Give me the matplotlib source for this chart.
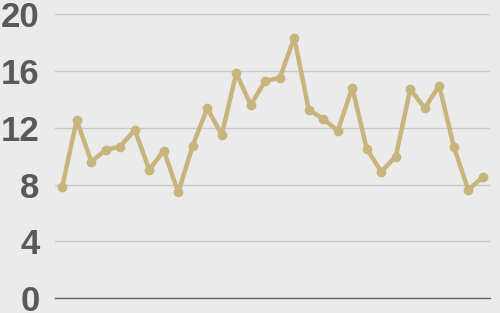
import matplotlib
matplotlib.use('Agg')
from matplotlib import pyplot as plt
import numpy as np

# values
values = [7.86, 12.54, 9.62, 10.44, 10.68, 11.85, 9.04, 10.4, 7.46, 10.75,
          13.38, 11.5, 15.85, 13.6, 15.3, 15.5, 18.35, 13.26, 12.63, 11.78,
          14.83, 10.51, 8.92, 9.97, 14.72, 13.38, 14.97, 10.68, 7.63, 8.52]
y_ticks = [0, 4, 8, 12, 16, 20]

BG = '#ebebeb'
LINE = '#c8b57d'
TEXT = '#595959'


def plot_chart():
    fig = plt.figure(figsize=(5, 3.13), dpi=100, facecolor=BG)
    ax = fig.add_axes([0.11, 0.047, 0.87, 0.908])
    ax.set_facecolor(BG)

    x = np.arange(len(values))
    ax.plot(x, values, color=LINE, linewidth=3.2, marker='o', markersize=6,
            solid_joinstyle='round', zorder=3)

    ax.set_xlim(-0.5, len(values) - 0.5)
    ax.set_ylim(0, 20)
    ax.set_yticks(y_ticks)
    ax.set_xticks([])
    ax.yaxis.grid(True, color='#c9c9c9', linewidth=1)
    ax.tick_params(axis='y', length=0, pad=11, labelsize=25, labelcolor=TEXT)
    for label in ax.get_yticklabels():
        label.set_fontfamily('Liberation Sans')
        label.set_fontweight('bold')

    for side in ['top', 'right', 'left']:
        ax.spines[side].set_visible(False)
    ax.spines['bottom'].set_color('#666666')
    ax.spines['bottom'].set_linewidth(1)

    fig.savefig('out.png', dpi=100, facecolor=BG)


if __name__ == '__main__':
    plot_chart()
